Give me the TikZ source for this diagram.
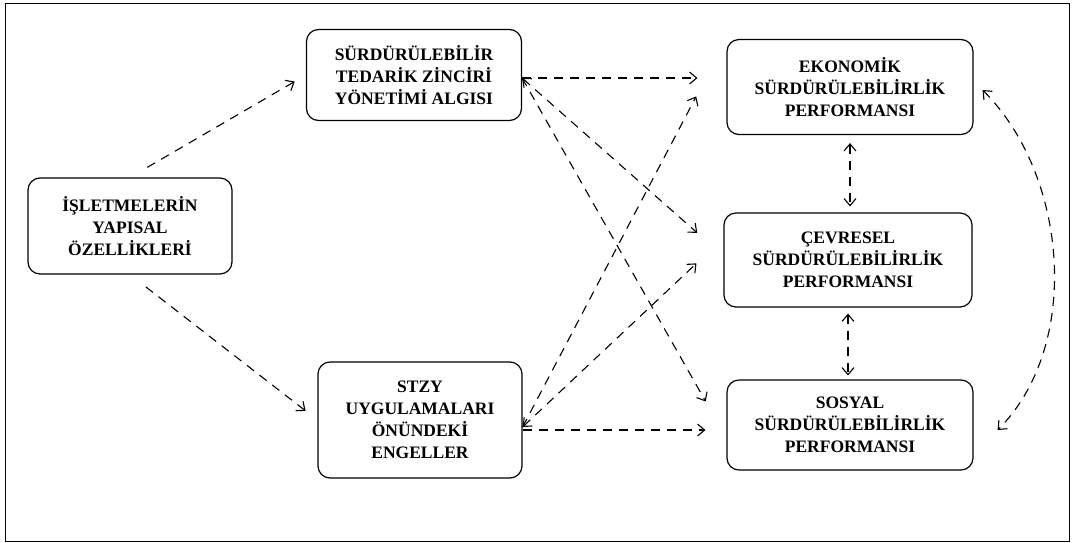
\documentclass[tikz,border=0pt]{standalone}
\usepackage{fontspec}
\setmainfont{Liberation Serif}
\usetikzlibrary{arrows.meta}
\usetikzlibrary{positioning}

\tikzset{
  box/.style={draw, rounded corners=12pt, line width=1.2pt, align=center,
    inner sep=0pt, font=\bfseries\fontsize{17.5}{22}\selectfont},
  link/.style={line width=1.1pt, dash pattern=on 9pt off 7pt},
}

\begin{document}
\begin{tikzpicture}[x=1pt, y=-1pt,
  >={Straight Barb[length=7pt,width=12pt]}]
\useasboundingbox (0,0) rectangle (1073,542);
\draw[line width=1pt] (5,3) rectangle (1069,541);

% left and middle boxes
\node [box, minimum width=204pt, minimum height=96pt] (isl) at (130,226)
  {İŞLETMELERİN\\YAPISAL\\ÖZELLİKLERİ};
\node [box, minimum width=215pt, minimum height=91pt] (sur) at (414,75)
  {SÜRDÜRÜLEBİLİR\\TEDARİK ZİNCİRİ\\YÖNETİMİ ALGISI};
\node [box, minimum width=204pt, minimum height=116pt] (stz) at (420,420)
  {STZY\\UYGULAMALARI\\ÖNÜNDEKİ\\ENGELLER};

% performance boxes
\node [box, minimum width=246pt, minimum height=95pt] (eko) at (850,87)
  {EKONOMİK\\SÜRDÜRÜLEBİLİRLİK\\PERFORMANSI};
\node [box, minimum width=248pt, minimum height=94pt] (cev) at (848,260)
  {ÇEVRESEL\\SÜRDÜRÜLEBİLİRLİK\\PERFORMANSI};
\node [box, minimum width=246pt, minimum height=90pt] (sos) at (850,425)
  {SOSYAL\\SÜRDÜRÜLEBİLİRLİK\\PERFORMANSI};

% connectors
\draw [link, ->, shorten <=20pt, shorten >=13pt] (isl.north) -- (sur.west);
\draw [link, ->, shorten <=20pt, shorten >=15pt] (isl.south) -- (stz.west);

\draw [link, ->, shorten >=29pt] ([yshift=-3pt]sur.east) -- ([yshift=-3pt]sur.east -| eko.west);
\draw [link, <->, shorten >=35pt] ([yshift=-3pt]sur.east) -- ([yshift=4pt]cev.west);
\draw [link, ->, shorten >=42pt] ([yshift=-3pt]sur.east) -- ([yshift=-13pt]sos.west);

\draw [link, ->, shorten >=65pt] ([yshift=-7pt]stz.east) -- (eko.north west);
\draw [link, <->, shorten >=37pt] ([yshift=-7pt]stz.east) -- ([yshift=22pt]cev.west);
\draw [link, ->, shorten >=21pt] ([yshift=-10pt]stz.east) -- ([yshift=-10pt]stz.east -| sos.west);

\draw [link, <->, shorten <=8pt, shorten >=6pt] (eko.south) -- (eko.south |- cev.north);
\draw [link, <->, shorten <=6pt, shorten >=4pt] (cev.south) -- (cev.south |- sos.north);

\draw [link, <->] ([xshift=9pt,yshift=-3pt]eko.east)
  .. controls +(86,86) and +(84,-84) .. ([xshift=24pt,yshift=-5pt]sos.east);
\end{tikzpicture}
\end{document}
